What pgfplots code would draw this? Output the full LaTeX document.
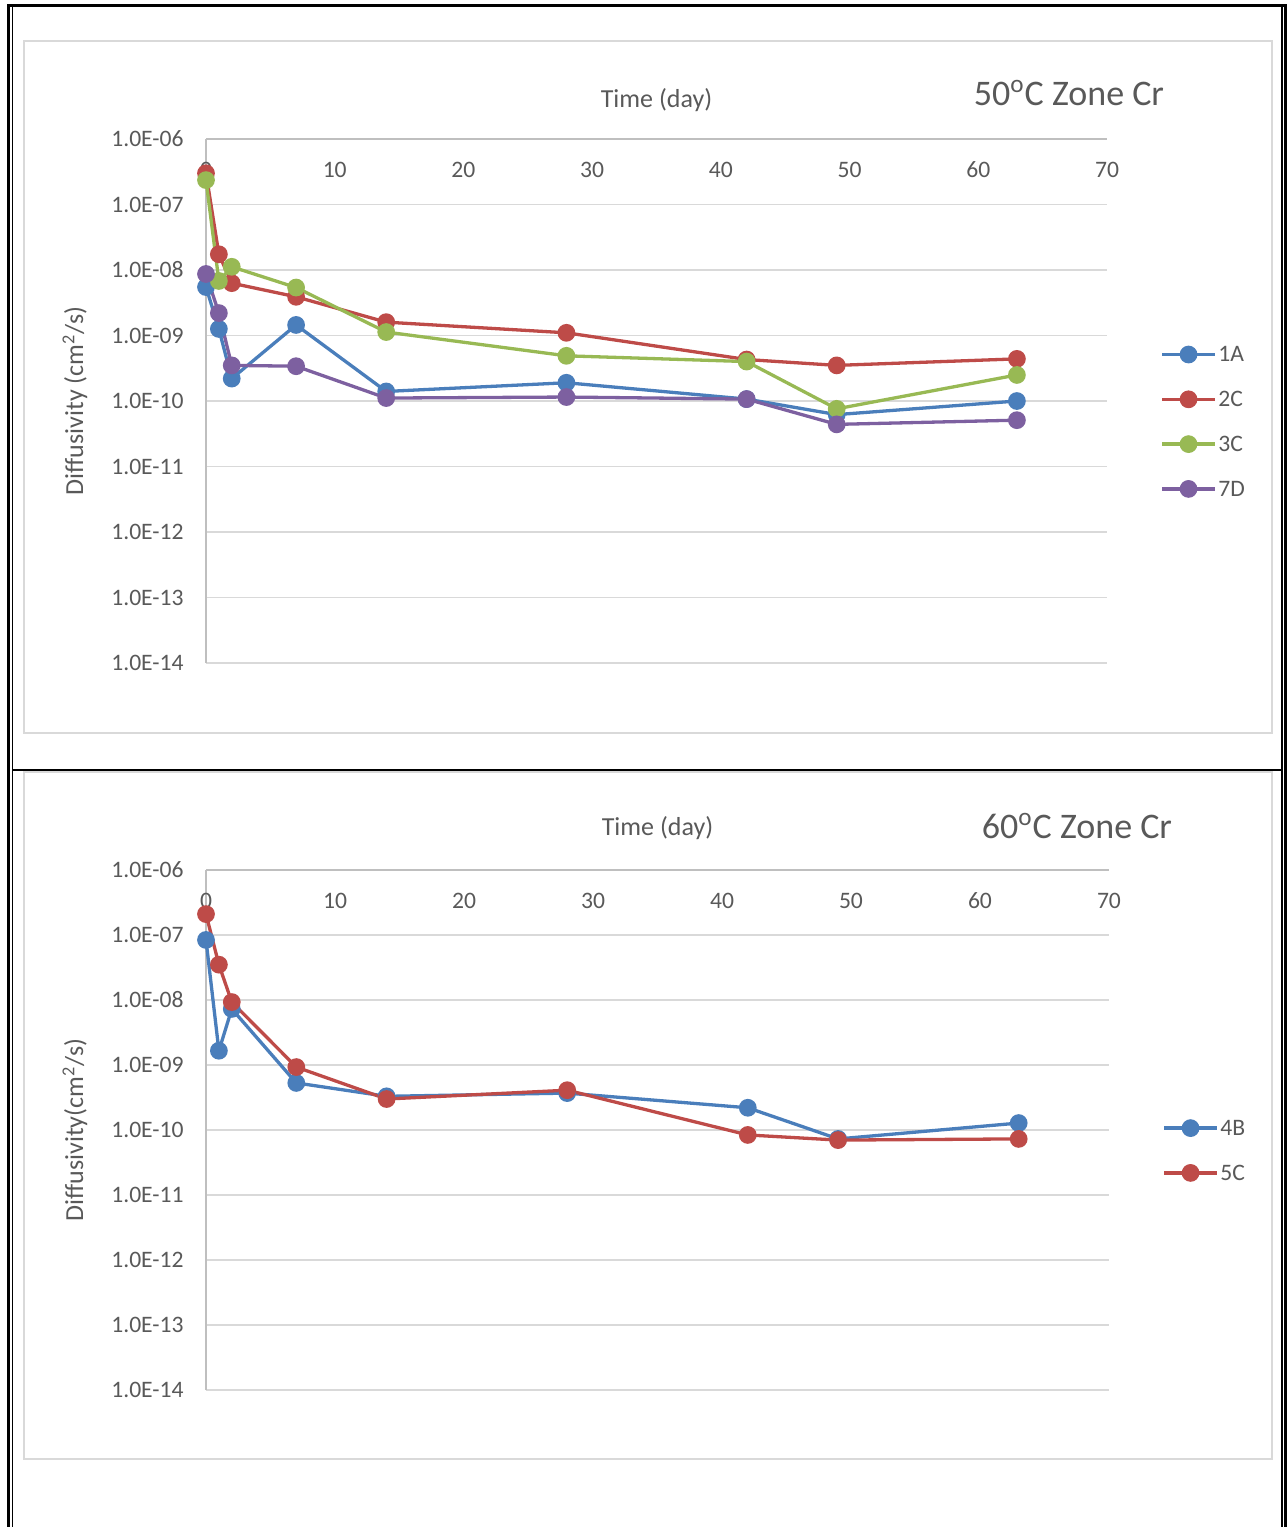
\documentclass[border=0pt]{standalone}
\usepackage{pgfplots}
\pgfplotsset{compat=1.18}
\usepackage{fontspec}
\setmainfont{Carlito}

\definecolor{txt}{HTML}{595959}
\definecolor{gridc}{HTML}{D9D9D9}
\definecolor{axc}{HTML}{BFBFBF}
\definecolor{sblue}{HTML}{4A7EBB}
\definecolor{sred}{HTML}{BE4B48}
\definecolor{sgreen}{HTML}{98B954}
\definecolor{spurple}{HTML}{7D60A0}

\pgfplotsset{
  legend image code/.code={
    \draw[#1, mark repeat=2, mark phase=2]
      plot coordinates {(0pt,0pt) (13.25pt,0pt) (26.5pt,0pt)};},
}

\pgfplotsset{
  diffusivity/.style={
    scale only axis,
    clip=false,
    xmin=0, xmax=70,
    ymin=1e-14, ymax=1e-6,
    xtick={0,10,20,30,40,50,60,70},
    xticklabels={0,10,20,30,40,50,60,70},
    ytick={1e-14,1e-13,1e-12,1e-11,1e-10,1e-9,1e-8,1e-7,1e-6},
    yticklabels={1.0E-14,1.0E-13,1.0E-12,1.0E-11,1.0E-10,1.0E-09,1.0E-08,1.0E-07,1.0E-06},
    major tick length=0pt, minor tick length=0pt,
    ymajorgrids, grid style={gridc, line width=0.75pt},
    axis x line*=top, axis y line*=left,
    axis line style={axc, line width=0.75pt},
    tick label style={font=\fontsize{11.8}{13}\selectfont, text=txt},
    xticklabel style={anchor=center, yshift=-15.5pt},
    yticklabel style={anchor=east, inner sep=0pt, xshift=-11pt},
    every axis y label/.style={at={(axis description cs:0,0.5)}, anchor=center,
      xshift=-65.5pt, rotate=90, font=\fontsize{13}{15}\selectfont, text=txt},
    legend style={draw=none, fill=none, anchor=west, inner sep=0pt,
      font=\fontsize{11.8}{13}\selectfont, text=txt, row sep=15pt,
      nodes={inner sep=0pt, text height=7.4pt, text depth=0pt}},
    legend cell align=left,
    every axis plot/.append style={line width=1.65pt, mark=*, mark size=3.6pt, mark options={solid}},
  }
}

\begin{document}
\begin{tikzpicture}
\useasboundingbox (0,0) rectangle (644pt,-763.5pt);

% ---------- 50 C zone Cr ----------
\begin{axis}[ymode=log, diffusivity,
  at={(103pt,-331.5pt)}, anchor=south west,
  width=450.5pt, height=262pt,
  xlabel={Time (day)},
  ylabel={Diffusivity (cm\textsuperscript{2}/s)},
  every axis x label/.style={at={(axis description cs:0.5,1)}, anchor=center,
    yshift=19.5pt, font=\fontsize{13}{15}\selectfont, text=txt},
  legend style={at={(axis description cs:1.0588,0.4605)}, /tikz/every odd column/.append style={column sep=0.8pt}},
]
\addplot[color=sblue] coordinates {
  (0,5.5e-9) (1,1.26e-9) (2,2.2e-10) (7,1.45e-9) (14,1.4e-10)
  (28,1.9e-10) (42,1.07e-10) (49,6.2e-11) (63,1.0e-10)};
\addlegendentry{1A}
\addplot[color=sred] coordinates {
  (0,3.0e-7) (1,1.74e-8) (2,6.3e-9) (7,3.9e-9) (14,1.6e-9)
  (28,1.1e-9) (42,4.3e-10) (49,3.5e-10) (63,4.4e-10)};
\addlegendentry{2C}
\addplot[color=sgreen] coordinates {
  (0,2.36e-7) (1,6.8e-9) (2,1.12e-8) (7,5.4e-9) (14,1.13e-9)
  (28,4.9e-10) (42,4.0e-10) (49,7.6e-11) (63,2.5e-10)};
\addlegendentry{3C}
\addplot[color=spurple] coordinates {
  (0,8.7e-9) (1,2.2e-9) (2,3.5e-10) (7,3.4e-10) (14,1.11e-10)
  (28,1.15e-10) (42,1.07e-10) (49,4.4e-11) (63,5.1e-11)};
\addlegendentry{7D}
\end{axis}

% ---------- 60 C zone Cr ----------
\begin{axis}[ymode=log, diffusivity,
  at={(103pt,-695pt)}, anchor=south west,
  width=451.5pt, height=260pt,
  xlabel={Time (day)},
  ylabel={Diffusivity(cm\textsuperscript{2}/s)},
  every axis x label/.style={at={(axis description cs:0.5,1)}, anchor=center,
    yshift=21pt, font=\fontsize{13}{15}\selectfont, text=txt},
  legend style={at={(axis description cs:1.0587,0.4606)}, /tikz/every odd column/.append style={column sep=0.8pt}},
]
\addplot[color=sblue] coordinates {
  (0,8.4e-8) (1,1.66e-9) (2,7.3e-9) (7,5.3e-10) (14,3.3e-10)
  (28,3.7e-10) (42,2.2e-10) (49,7.3e-11) (63,1.28e-10)};
\addlegendentry{4B}
\addplot[color=sred] coordinates {
  (0,2.1e-7) (1,3.5e-8) (2,9.3e-9) (7,9.3e-10) (14,3.0e-10)
  (28,4.1e-10) (42,8.4e-11) (49,7.0e-11) (63,7.3e-11)};
\addlegendentry{5C}
\end{axis}

% ---------- frames and titles (1 unit = 0.5pt, y downwards) ----------
\begin{scope}[x=0.5pt, y=-0.5pt]
  \draw[gridc, line width=1pt] (24,41) rectangle (1272,733);
  \draw[gridc, line width=1pt] (24,772) rectangle (1272,1459);
  \draw[black, line width=1.5pt] (7,5.5) -- (1287,5.5);
  \draw[black, line width=1.5pt] (8.5,4) -- (8.5,1527);
  \draw[black, line width=0.75pt] (12.5,7) -- (12.5,1527);
  \draw[black, line width=0.75pt] (1282,7) -- (1282,1527);
  \draw[black, line width=1.5pt] (1285.5,4) -- (1285.5,1527);
  \draw[black, line width=1.2pt] (12.5,770) -- (1282,770);
  \node[font=\fontsize{18}{21}\selectfont, text=txt] at (1069,93) {50\textsuperscript{o}C Zone Cr};
  \node[font=\fontsize{18}{21}\selectfont, text=txt] at (1077,826) {60\textsuperscript{o}C Zone Cr};
\end{scope}
\end{tikzpicture}
\end{document}
